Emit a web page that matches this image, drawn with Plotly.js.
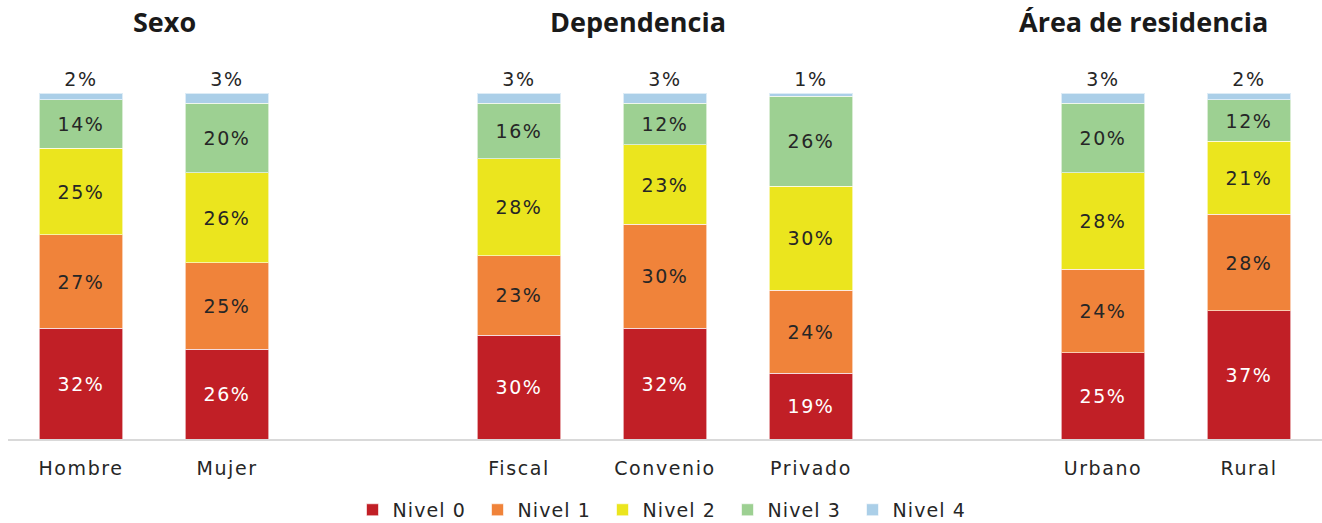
<!DOCTYPE html>
<html><head><meta charset="utf-8">
<script src="https://cdn.plot.ly/plotly-3.0.1.min.js"></script>
<style>
html,body{margin:0;padding:0;background:#fff}
.main-svg .xtick text, .main-svg .bartext{letter-spacing:1.6px}
.main-svg .legendtext{letter-spacing:1.1px}
</style>
</head><body>
<div id="chart" style="width:1322px;height:523px"></div>
<script>
const categories = ['Hombre','Mujer','Fiscal','Convenio','Privado','Urbano','Rural'];
const axisOrder = ['Hombre','Mujer',' ','Fiscal','Convenio','Privado','  ','Urbano','Rural'];
const seriesNames = ['Nivel 0','Nivel 1','Nivel 2','Nivel 3','Nivel 4'];
const nivel0 = [32,26,30,32,19,25,37];
const nivel1 = [27,25,23,30,24,24,28];
const nivel2 = [25,26,28,23,30,28,21];
const nivel3 = [14,20,16,12,26,20,12];
const nivel4 = [2,3,3,3,1,3,2];
const groupTitles = ['Sexo','Dependencia','Área de residencia'];

const colors = ['#C11F26','#F0833A','#EBE51E','#9DD092','#ABCFE8'];
const textColors = ['#ffffff','#262626','#262626','#262626','#262626'];
const values = [nivel0,nivel1,nivel2,nivel3,nivel4];
const font = 'DejaVu Sans, Verdana, sans-serif';

const traces = values.map((v,i)=>({
  type:'bar', name:seriesNames[i], x:categories, y:v,
  marker:{color:colors[i], line:{color:'rgba(255,255,255,0.6)', width:1}},
  texttemplate:'%{y}%',
  textposition: i===4 ? 'outside' : 'inside',
  insidetextanchor:'middle',
  constraintext:'none',
  cliponaxis:false,
  textfont:{family:font, size:19, color: textColors[i]},
  hoverinfo:'skip'
}));

const titleX = [0.575, 3.815, 7.28];
const annotations = groupTitles.map((t,i)=>({
  text:t, xref:'x', yref:'paper', x:titleX[i], y:1.208, yanchor:'middle',
  showarrow:false, font:{family:'Open Sans, sans-serif', size:27, color:'#1a1a1a', weight:'bold'}
}));

const layout = {
  width:1322, height:523,
  margin:{l:8, r:0, t:93, b:84, autoexpand:false},
  barmode:'stack', bargap:0.43,
  paper_bgcolor:'#fff', plot_bgcolor:'#fff',
  showlegend:true,
  legend:{orientation:'h', x:0.5, xanchor:'center', y:-0.205, yanchor:'middle',
    font:{family:font, size:19, color:'#262626'}, traceorder:'normal',
    entrywidth:80, itemwidth:30},
  xaxis:{type:'category', categoryorder:'array', categoryarray:axisOrder, range:[-0.5,8.5],
    showline:true, linecolor:'#D9D9D9', linewidth:2, ticks:'', showgrid:false, zeroline:false,
    ticklabelstandoff:11,
    tickfont:{family:font, size:19, color:'#262626'}, fixedrange:true},
  yaxis:{range:[0,100], visible:false, showgrid:false, zeroline:false, fixedrange:true},
  annotations:annotations
};
Plotly.newPlot('chart', traces, layout, {displayModeBar:false, staticPlot:true});
</script>
</body></html>
